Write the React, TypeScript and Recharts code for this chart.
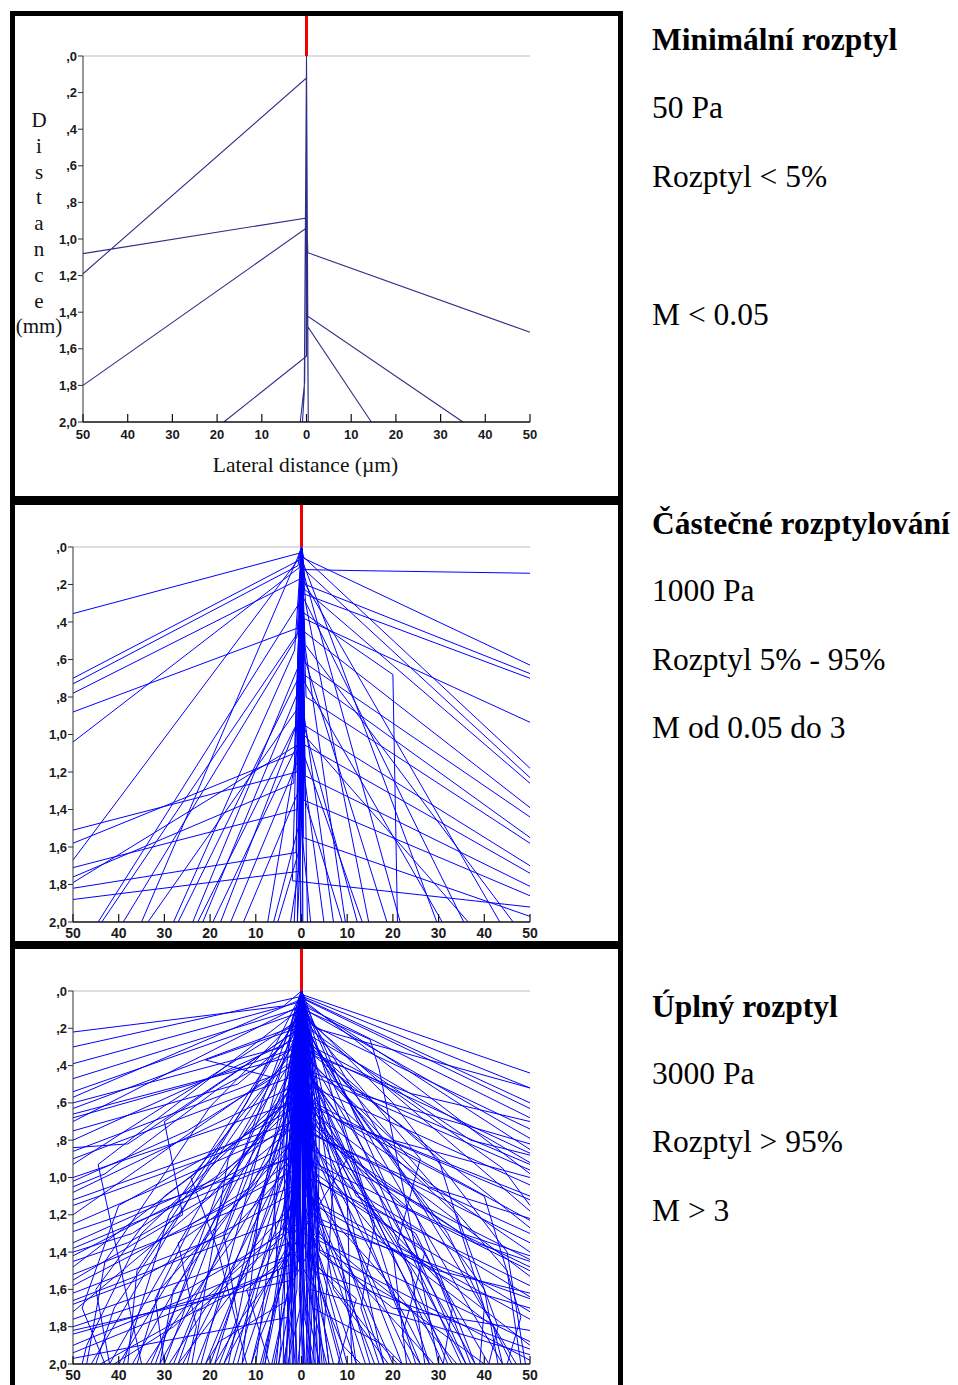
import React from "react";
import { LineChart, Line, XAxis, YAxis, ReferenceLine, Label } from "recharts";

type Pt = [number, number];

const lateralTicks = [-50, -40, -30, -20, -10, 0, 10, 20, 30, 40, 50];
const depthTicks = [0, 0.2, 0.4, 0.6, 0.8, 1.0, 1.2, 1.4, 1.6, 1.8, 2.0];
const depthTickLabels = [",0", ",2", ",4", ",6", ",8", "1,0", "1,2", "1,4", "1,6", "1,8", "2,0"];
const distanceLetters = ["D", "i", "s", "t", "a", "n", "c", "e", "(mm)"];

const panelTitles = ["Minimální rozptyl", "Částečné rozptylování", "Úplný rozptyl"];
const panelPressures = ["50 Pa", "1000 Pa", "3000 Pa"];
const panelScatter = ["Rozptyl < 5%", "Rozptyl 5% - 95%", "Rozptyl > 95%"];
const panelM = ["M < 0.05", "M od 0.05 do 3", "M > 3"];

// trajectories: [lateral µm, depth mm]; every electron enters at (0, 0)
const lowPaths: Pt[][] = [
  [[0, 0.12], [-50, 1.19]],
  [[0, 0.885], [-50, 1.08]],
  [[0, 0.94], [-50, 1.8]],
  [[0.2, 1.0], [0.3, 1.075], [50, 1.51]],
  [[0.2, 1.42], [35, 2.0]],
  [[0.3, 1.48], [14.5, 2.0]],
  [[0, 1.64], [-18.5, 2.0]],
  [[-0.4, 1.78], [-1.4, 2.0]],
  [[0.4, 2.0]],
  [[-0.5, 1.84], [-0.9, 2.0]],
  [[0.3, 1.7], [0.4, 2.0]],
];

const midPaths: Pt[][] = [
  [[0, 0.03], [-50, 0.355]],
  [[0.3, 0.06], [-50, 0.7]],
  [[-0.8, 0.1], [-50, 0.73]],
  [[-0.3, 0.17], [-50, 0.78]],
  [[-0.6, 0.43], [-50, 0.88]],
  [[-0.5, 0.11], [-50, 1.04]],
  [[-1.0, 1.2], [-50, 1.51]],
  [[-1.5, 1.1], [-50, 1.58]],
  [[-0.8, 0.07], [-50, 1.67]],
  [[-0.9, 1.4], [-50, 1.71]],
  [[-1.7, 1.26], [-50, 1.76]],
  [[-0.5, 1.05], [-50, 1.79]],
  [[-1.2, 1.63], [-50, 1.82]],
  [[-0.6, 1.73], [-50, 1.88]],
  [[-0.9, 0.06], [-35, 2.0]],
  [[-0.5, 0.3], [-44.5, 2.0]],
  [[-0.3, 0.44], [-43.7, 2.0]],
  [[-1.0, 0.48], [-39, 2.0]],
  [[-0.5, 0.85], [-33.6, 2.0]],
  [[-1.5, 0.55], [-28, 2.0]],
  [[-0.7, 0.7], [-27, 2.0]],
  [[-0.4, 0.62], [-23.8, 2.0]],
  [[-1.2, 0.95], [-22.7, 2.0]],
  [[-0.2, 0.74], [-21.6, 2.0]],
  [[-0.8, 1.05], [-19.4, 2.0]],
  [[-0.3, 0.9], [-17.7, 2.0]],
  [[-1.0, 1.15], [-15.5, 2.0]],
  [[-0.6, 1.3], [-12.7, 2.0]],
  [[-0.4, 1.0], [-7.4, 2.0]],
  [[-0.2, 1.45], [-6.1, 2.0]],
  [[-0.3, 1.6], [-5.2, 2.0]],
  [[-0.5, 1.7], [-2.4, 2.0]],
  [[0, 1.5], [-0.9, 2.0]],
  [[0, 0.12], [10, 0.125], [50, 0.14]],
  [[0.5, 0.06], [50, 0.63]],
  [[0.8, 0.2], [50, 0.675]],
  [[0.5, 0.25], [50, 0.7]],
  [[0.4, 0.38], [50, 0.935]],
  [[0.3, 0.05], [50, 1.18]],
  [[0.6, 0.12], [50, 1.23]],
  [[0.4, 0.22], [50, 1.26]],
  [[0.5, 0.45], [50, 1.39]],
  [[0.8, 0.62], [50, 1.44]],
  [[0.5, 0.68], [50, 1.55]],
  [[1.0, 0.8], [50, 1.58]],
  [[0.6, 0.95], [50, 1.7]],
  [[0.3, 1.05], [50, 1.74]],
  [[0.8, 1.22], [50, 1.81]],
  [[0.5, 1.35], [50, 1.86]],
  [[-2, 1.78], [50, 1.92]],
  [[0.4, 1.55], [50, 1.97]],
  [[0.2, 1.55], [2.0, 2.0]],
  [[0.5, 1.2], [4.9, 2.0]],
  [[0.3, 0.85], [7.0, 2.0]],
  [[0.8, 1.35], [8.9, 2.0]],
  [[0.6, 0.5], [9.6, 2.0]],
  [[0.2, 0.92], [12.2, 2.0]],
  [[0.4, 1.1], [13.3, 2.0]],
  [[0.9, 0.3], [14.7, 2.0]],
  [[0.5, 0.58], [18.7, 2.0]],
  [[0.4, 0.35], [20, 0.68], [21, 2.0]],
  [[0.7, 0.16], [21.6, 2.0]],
  [[0.3, 0.08], [29.6, 2.0]],
  [[0.6, 0.72], [30.8, 2.0]],
  [[0.2, 0.26], [35.5, 2.0]],
  [[0.5, 1.0], [36.5, 2.0]],
  [[0.4, 0.18], [43.4, 2.0]],
  [[0.8, 0.52], [46.3, 2.0]],
  [[0.3, 2.0]],
  [[-0.4, 1.1], [-0.2, 2.0]],
  [[0.6, 0.9], [0.1, 2.0]],
  [[-0.7, 1.6], [-0.9, 2.0]],
  [[0.9, 1.4], [1.3, 2.0]],
  [[-1.2, 1.8], [-1.6, 2.0]],
];

const highPaths: Pt[][] = [
  [[0.2, 0.02], [50, 0.44]],
  [[0.3, 0.03], [50, 0.52]],
  [[1.0, 0.06], [3, 0.2], [50, 0.52]],
  [[1, 0.05], [50, 0.63]],
  [[0.5, 0.08], [50, 0.68]],
  [[2, 0.18], [50, 0.74]],
  [[0.8, 0.1], [50, 0.79]],
  [[1.5, 0.32], [50, 0.87]],
  [[0.5, 0.22], [50, 0.92]],
  [[-1, 0.4], [50, 0.93]],
  [[2, 0.45], [50, 0.96]],
  [[0.4, 0.05], [50, 0.98]],
  [[1, 0.5], [50, 1.04]],
  [[0.6, 0.14], [50, 1.18]],
  [[3, 0.6], [50, 1.23]],
  [[0.3, 0.3], [50, 1.27]],
  [[1.2, 0.75], [50, 1.35]],
  [[-0.5, 0.55], [50, 1.4]],
  [[2, 0.85], [50, 1.44]],
  [[0.8, 0.62], [50, 1.53]],
  [[1.5, 1.0], [50, 1.58]],
  [[0.2, 0.9], [50, 1.64]],
  [[4, 1.25], [50, 1.65]],
  [[1, 1.1], [50, 1.76]],
  [[0.5, 1.3], [50, 1.88]],
  [[2.5, 1.5], [50, 1.92]],
  [[1, 0.2], [14, 0.75], [50, 1.12]],
  [[0.5, 0.35], [20, 0.8], [50, 1.0]],
  [[3, 0.4], [28, 1.05], [50, 1.22]],
  [[1, 0.7], [22, 1.15], [50, 1.48]],
  [[2, 1.2], [30, 1.5], [50, 1.62]],
  [[-3.9, 0.08], [-50, 0.22]],
  [[-0.5, 0.06], [-50, 0.39]],
  [[-0.3, 0.09], [-50, 0.47]],
  [[-1, 0.12], [-50, 0.54]],
  [[-4, 0.3], [-50, 0.6]],
  [[-0.5, 0.18], [-50, 0.63]],
  [[-2, 0.35], [-50, 0.66]],
  [[-0.5, 0.25], [-50, 0.8]],
  [[-1, 0.45], [-50, 0.9]],
  [[-0.3, 0.15], [-50, 0.93]],
  [[-2, 0.6], [-50, 1.0]],
  [[-0.8, 0.5], [-50, 1.08]],
  [[-1.5, 0.7], [-50, 1.12]],
  [[-0.4, 0.35], [-50, 1.2]],
  [[-3, 0.9], [-50, 1.29]],
  [[-1, 0.8], [-50, 1.42]],
  [[-0.5, 0.55], [-50, 1.48]],
  [[-2, 1.05], [-50, 1.52]],
  [[-0.7, 0.95], [-50, 1.58]],
  [[-1.2, 1.2], [-50, 1.66]],
  [[-0.3, 0.7], [-50, 1.72]],
  [[-2.5, 1.35], [-50, 1.76]],
  [[-1, 1.5], [-50, 1.84]],
  [[-0.6, 1.45], [-50, 1.94]],
  [[-3, 1.75], [-50, 1.97]],
  [[-1, 0.2], [-21, 0.37], [-6.8, 0.46], [-50, 0.86]],
  [[-2, 0.4], [-25, 0.75], [-50, 1.02]],
  [[-1, 0.6], [-18, 1.0], [-50, 1.35]],
  [[-0.5, 0.1], [-44.5, 0.93], [-35, 2.0]],
  [[-1, 0.3], [-24.2, 1.0], [-18.3, 1.39], [-12, 2.0]],
  [[-0.5, 0.12], [-46, 2.0]],
  [[-1, 0.25], [-42, 2.0]],
  [[-0.3, 0.4], [-40, 2.0]],
  [[-2, 0.5], [-37, 2.0]],
  [[-0.6, 0.2], [-33, 2.0]],
  [[-1.5, 0.65], [-31, 2.0]],
  [[-0.4, 0.3], [-28, 2.0]],
  [[-1, 0.8], [-26, 2.0]],
  [[-0.2, 0.55], [-23, 2.0]],
  [[-2.5, 0.9], [-21, 2.0]],
  [[-0.8, 0.45], [-19, 2.0]],
  [[-1.2, 1.0], [-17, 2.0]],
  [[-0.3, 0.75], [-15, 2.0]],
  [[-2, 1.2], [-13, 2.0]],
  [[-0.5, 0.95], [-11, 2.0]],
  [[-1.5, 1.3], [-9, 2.0]],
  [[-0.7, 1.1], [-8, 2.0]],
  [[-2, 1.5], [-6.5, 2.0]],
  [[-0.4, 1.4], [-5, 2.0]],
  [[-1, 1.6], [-4, 2.0]],
  [[-0.3, 1.7], [-3, 2.0]],
  [[-3, 0.6], [-30, 1.1], [-45, 1.6], [-42, 2.0]],
  [[-1, 0.15], [-29, 1.2], [-39, 2.0]],
  [[-2, 0.8], [-14, 1.3], [-30, 1.85], [-34, 2.0]],
  [[-1.5, 0.35], [-16, 0.9], [-24, 2.0]],
  [[-0.5, 0.65], [-8, 1.2], [-20, 2.0]],
  [[-4, 1.0], [-10, 1.45], [-27, 2.0]],
  [[-1, 1.25], [-22, 1.7], [-44, 2.0]],
  [[-0.8, 0.05], [-12, 0.6], [-36, 1.5], [-38, 2.0]],
  [[0.5, 0.1], [15, 0.26], [17, 0.42], [30, 2.0]],
  [[0.3, 0.08], [47, 2.0]],
  [[1, 0.2], [44, 2.0]],
  [[0.5, 0.3], [41, 2.0]],
  [[2, 0.45], [38, 2.0]],
  [[0.4, 0.15], [35, 2.0]],
  [[1.2, 0.6], [33, 2.0]],
  [[0.2, 0.35], [31, 2.0]],
  [[1.5, 0.75], [28, 2.0]],
  [[0.6, 0.5], [26, 2.0]],
  [[2.5, 0.85], [24, 2.0]],
  [[0.3, 0.65], [22, 2.0]],
  [[1, 0.95], [20, 2.0]],
  [[0.7, 0.8], [18, 2.0]],
  [[2, 1.1], [16, 2.0]],
  [[0.4, 1.0], [14, 2.0]],
  [[1.5, 1.25], [12, 2.0]],
  [[0.8, 1.15], [10, 2.0]],
  [[2, 1.4], [8.5, 2.0]],
  [[0.5, 1.35], [7, 2.0]],
  [[1, 1.55], [5.5, 2.0]],
  [[0.3, 1.6], [4, 2.0]],
  [[0.6, 1.75], [3, 2.0]],
  [[1, 0.4], [10, 0.9], [-5, 1.5], [-8, 2.0]],
  [[2, 0.7], [25, 1.2], [38, 2.0]],
  [[1, 0.25], [22, 0.85], [45, 1.5], [48, 2.0]],
  [[0.5, 0.55], [12, 1.0], [27, 1.6], [36, 2.0]],
  [[3, 0.9], [18, 1.35], [42, 1.8], [44, 2.0]],
  [[1, 0.1], [8, 0.5], [32, 1.3], [46, 2.0]],
  [[0.7, 1.2], [14, 1.6], [29, 2.0]],
  [[2, 0.3], [30, 0.9], [40, 1.7], [39, 2.0]],
  [[1.5, 0.5], [20, 1.4], [23, 2.0]],
  [[0.5, 0.6], [-1, 1.2], [0.8, 2.0]],
  [[-0.8, 0.9], [1.5, 2.0]],
  [[1.2, 0.5], [2.5, 1.4], [3, 2.0]],
  [[-1, 0.4], [-2.5, 1.3], [-2, 2.0]],
  [[0.3, 1.0], [-0.5, 2.0]],
  [[-0.5, 0.3], [0.5, 1.1], [1.8, 2.0]],
  [[0.8, 0.2], [-1.5, 1.6], [-2.8, 2.0]],
  [[-1.5, 0.7], [-0.3, 1.5], [0.2, 2.0]],
  [[2, 0.8], [1, 1.7], [2.2, 2.0]],
  [[-2, 1.0], [-1.2, 2.0]],
  [[0, 0.5], [0.5, 2.0]],
  [[-0.3, 0.8], [-3.5, 2.0]],
  [[1.5, 1.1], [4.5, 2.0]],
  [[-2.5, 1.2], [-5.5, 2.0]],
  [[2.5, 1.3], [6, 2.0]],
  [[0.5, 0.04], [50, 0.6]],
  [[0.2, 0.06], [50, 0.85]],
  [[-0.2, 0.03], [-50, 0.3]],
  [[-0.6, 0.05], [-50, 0.57]],
  [[-0.4, 0.08], [-50, 0.7]],
  [[0.3, 0.04], [36, 2.0]],
  [[-0.3, 0.05], [-30, 2.0]],
  [[0.6, 0.07], [25, 2.0]],
  [[-0.5, 0.06], [-22, 2.0]],
  [[0.4, 0.09], [18, 2.0]],
  [[-0.2, 0.1], [-16, 2.0]],
  [[0.1, 0.04], [12, 2.0]],
  [[-0.4, 0.07], [-10, 2.0]],
  [[2, 0.3], [12, 0.55], [50, 0.82]],
  [[-2, 0.25], [-14, 0.5], [-50, 0.75]],
  [[3, 0.5], [9, 0.7], [50, 1.1]],
  [[-3, 0.45], [-10, 0.8], [-50, 1.15]],
  [[1, 0.65], [16, 1.0], [35, 1.3], [50, 1.42]],
  [[-1, 0.55], [-20, 1.1], [-38, 1.35], [-50, 1.45]],
  [[2.5, 1.0], [18, 1.25], [50, 1.72]],
  [[-2.5, 0.95], [-16, 1.3], [-50, 1.62]],
  [[4, 1.4], [20, 1.7], [50, 1.82]],
  [[-4, 1.3], [-25, 1.6], [-50, 1.8]],
  [[1, 0.35], [6, 0.8], [24, 1.5], [27, 2.0]],
  [[-1, 0.4], [-7, 0.9], [-28, 1.6], [-31, 2.0]],
  [[3, 0.7], [10, 1.1], [11, 2.0]],
  [[-3, 0.65], [-9, 1.1], [-13, 2.0]],
  [[2, 0.9], [7, 1.6], [19, 2.0]],
  [[-2, 0.85], [-6, 1.5], [-17, 2.0]],
  [[1.5, 0.2], [5, 0.4], [40, 1.6], [43, 2.0]],
  [[-1.5, 0.22], [-6, 0.45], [-41, 1.7], [-45, 2.0]],
  [[2, 1.1], [15, 1.45], [34, 2.0]],
  [[-2, 1.15], [-17, 1.55], [-29, 2.0]],
  [[3, 1.3], [26, 1.75], [40, 2.0]],
  [[-3, 1.25], [-28, 1.8], [-41, 2.0]],
  [[0.5, 0.15], [26, 0.9], [21, 1.35], [50, 1.9]],
  [[-0.5, 0.2], [-30, 0.7], [-26, 1.2], [-50, 1.55]],
  [[1, 0.45], [34, 1.2], [43, 1.8], [41, 2.0]],
  [[-1, 0.5], [-35, 1.3], [-47, 1.9], [-48, 2.0]],
  [[4, 0.6], [7, 1.0], [5, 1.8], [6, 2.0]],
  [[-4, 0.7], [-6, 1.1], [-4.5, 1.9], [-5, 2.0]],
  [[2, 0.2], [4, 0.6], [3.5, 1.5], [9, 2.0]],
  [[-2, 0.15], [-4, 0.55], [-3.5, 1.4], [-8.5, 2.0]],
  [[1, 0.3], [2, 1.0], [1, 2.0]],
  [[-1, 0.35], [-2, 1.1], [-1, 2.0]],
  [[2, 0.4], [3.5, 1.2], [2.5, 2.0]],
  [[-2, 0.45], [-3.5, 1.3], [-2.5, 2.0]],
  [[3, 0.6], [4, 2.0]],
  [[-3, 0.55], [-4, 2.0]],
  [[0.5, 0.2], [1.5, 0.9], [-0.5, 1.6], [0.5, 2.0]],
  [[-0.5, 0.25], [-1.5, 0.95], [0.5, 1.7], [-0.8, 2.0]],
  [[1.5, 0.7], [3, 1.5], [3.5, 2.0]],
  [[-1.5, 0.75], [-3, 1.55], [-3.2, 2.0]],
  [[2.5, 0.35], [1.5, 1.3], [2, 2.0]],
  [[-2.5, 0.4], [-1.5, 1.35], [-1.8, 2.0]],
  [[0.8, 0.5], [2.2, 1.8], [1.2, 2.0]],
  [[-0.8, 0.6], [-2.2, 1.75], [-1.4, 2.0]],
  [[3.5, 0.9], [2, 1.6], [3.8, 2.0]],
  [[-3.5, 0.85], [-2, 1.65], [-3.8, 2.0]],
  [[1.2, 1.4], [14, 1.8], [21, 2.0]],
  [[-1.2, 1.35], [-13, 1.75], [-19, 2.0]],
  [[0.6, 1.0], [9, 1.5], [15, 2.0]],
  [[-0.6, 1.05], [-9, 1.55], [-14, 2.0]],
  [[2, 0.6], [17, 1.1], [32, 2.0]],
  [[-2, 0.55], [-18, 1.05], [-32, 2.0]],
  [[1, 0.8], [30, 1.55], [37, 2.0]],
  [[-1, 0.78], [-31, 1.6], [-36, 2.0]],
  [[0.3, 0.12], [20, 0.6], [45, 1.4], [49, 2.0]],
  [[-0.3, 0.13], [-20, 0.62], [-43, 1.45], [-47, 2.0]],
  [[4, 1.6], [9, 1.9], [13, 2.0]],
  [[-4, 1.55], [-9, 1.85], [-11, 2.0]],
  [[1, 1.35], [50, 1.98]],
  [[-1, 1.4], [-50, 1.9]],
  [[2, 1.6], [50, 1.95]],
  [[-2, 1.55], [-50, 1.82]],
  [[0.5, 0.75], [50, 1.3]],
  [[-0.5, 0.72], [-50, 1.25]],
  [[1, 0.9], [50, 1.5]],
  [[-1, 0.88], [-50, 1.38]],
  [[1, 0.5], [12, 1.1], [25, 1.3], [33, 1.7], [31, 2.0]],
  [[-1, 0.55], [-11, 1.05], [-24, 1.25], [-32, 1.65], [-30, 2.0]],
  [[2, 0.75], [20, 1.05], [38, 1.35], [50, 1.45]],
  [[-2, 0.7], [-19, 1.0], [-37, 1.3], [-50, 1.4]],
  [[0.5, 0.4], [9, 0.7], [16, 1.25], [13, 1.7], [17, 2.0]],
  [[-0.5, 0.45], [-9, 0.75], [-17, 1.3], [-14, 1.75], [-18, 2.0]],
  [[1.5, 0.95], [27, 1.4], [22, 1.85], [26, 2.0]],
  [[-1.5, 0.9], [-27, 1.35], [-23, 1.8], [-25, 2.0]],
  [[3, 1.15], [36, 1.6], [50, 1.7]],
  [[-3, 1.1], [-36, 1.55], [-50, 1.68]],
  [[1, 0.28], [18, 0.5], [44, 0.95], [50, 1.15]],
  [[-1, 0.3], [-18, 0.52], [-43, 0.98], [-50, 1.05]],
  [[0.5, 1.2], [6, 1.45], [24, 1.7], [28, 2.0]],
  [[-0.5, 1.25], [-6, 1.5], [-23, 1.72], [-27, 2.0]],
  [[2, 1.45], [12, 1.65], [8, 2.0]],
  [[-2, 1.4], [-12, 1.6], [-7, 2.0]],
  [[1, 0.6], [40, 1.1], [48, 1.75], [45, 2.0]],
  [[-1, 0.62], [-40, 1.15], [-48, 1.7], [-43, 2.0]],
  [[3, 0.35], [24, 0.55], [50, 0.7]],
  [[-3, 0.32], [-24, 0.5], [-50, 0.68]],
  [[2.5, 1.7], [18, 1.9], [22, 2.0]],
  [[-2.5, 1.65], [-18, 1.88], [-21, 2.0]],
  [[1, 1.0], [4, 1.3], [-3, 1.6], [-6, 2.0]],
  [[-1, 1.0], [-4, 1.3], [3, 1.6], [5, 2.0]],
  [[0.3, 0.18], [10, 0.35], [37, 0.8], [50, 0.88]],
  [[-0.3, 0.2], [-10, 0.36], [-38, 0.82], [-50, 0.84]],
];

type Row = { x: number; d: number | null };

function toTable(paths: Pt[][]): Row[] {
  const rows: Row[] = [];
  for (const path of paths) {
    const pts: Pt[] = [[0, 0], ...path];
    for (const [x, d] of pts) rows.push({ x, d });
    rows.push({ x: pts[pts.length - 1][0], d: null }); // break between electrons
  }
  return rows;
}

const depthLabel = (v: number) => {
  const i = depthTicks.findIndex((t) => Math.abs(t - v) < 1e-6);
  return i >= 0 ? depthTickLabels[i] : "";
};

const sans = "'Liberation Sans', Arial, sans-serif";
const serif = "'Liberation Serif', 'Times New Roman', serif";

function LateralTick(props: any) {
  const { x, y, payload, fontSize, labelDy } = props;
  return (
    <g>
      <line x1={x} y1={y} x2={x} y2={y - 8} stroke="#111" strokeWidth={1.2} />
      <text x={x} y={y + labelDy} textAnchor="middle" fontSize={fontSize} fontWeight={700} fontFamily={sans} fill="#1a1a1a">
        {Math.abs(payload.value)}
      </text>
    </g>
  );
}

function DepthTick(props: any) {
  const { x, y, payload } = props;
  return (
    <text x={x} y={y + 4.5} textAnchor="end" fontSize={13} fontWeight={700} fontFamily={sans} fill="#1a1a1a">
      {depthLabel(payload.value)}
    </text>
  );
}

function DistanceTitle(props: any) {
  const vb = props.viewBox || { x: 0, y: 0 };
  return (
    <text textAnchor="middle" fontFamily={serif} fontSize={21} fill="#111">
      {distanceLetters.map((c, i) => (
        <tspan key={i} x={vb.x - 14} y={vb.y + 71 + i * 25.8}>
          {c}
        </tspan>
      ))}
    </text>
  );
}

function LateralTitle(props: any) {
  const vb = props.viewBox || { x: 0, y: 0, width: 0 };
  return (
    <text x={vb.x + vb.width / 2 - 1} y={vb.y + 50} textAnchor="middle" fontFamily={serif} fontSize={21.5} fill="#111">
      Lateral distance (µm)
    </text>
  );
}

type ChartProps = {
  paths: Pt[][];
  left: number;
  top: number;
  width: number;
  height: number;
  margin: { top: number; right: number; bottom: number; left: number };
  xAxisHeight: number;
  stroke: string;
  strokeWidth: number;
  tickFont: number;
  labelDy: number;
  titles?: boolean;
};

function TrajectoryChart(p: ChartProps) {
  const data = toTable(p.paths);
  return (
    <div style={{ position: "absolute", left: p.left, top: p.top }}>
      <LineChart width={p.width} height={p.height} data={data} margin={p.margin}>
        <XAxis
          type="number"
          dataKey="x"
          domain={[-50, 50]}
          ticks={lateralTicks}
          interval={0}
          height={p.xAxisHeight}
          axisLine={{ stroke: "#111", strokeWidth: 1.5 }}
          tickLine={false}
          tickSize={0}
          tickMargin={0}
          tick={(t: any) => <LateralTick {...t} fontSize={p.tickFont} labelDy={p.labelDy} />}
        >
          {p.titles ? <Label content={<LateralTitle />} /> : null}
        </XAxis>
        <YAxis
          type="number"
          domain={[0, 2]}
          reversed
          ticks={depthTicks}
          interval={0}
          width={30}
          axisLine={{ stroke: "#333" }}
          tickLine={{ stroke: "#333" }}
          tickSize={5}
          tickMargin={1}
          tick={(t: any) => <DepthTick {...t} />}
        >
          {p.titles ? <Label content={<DistanceTitle />} /> : null}
        </YAxis>
        <ReferenceLine y={0} stroke="#bdbdbd" />
        <Line
          dataKey="d"
          stroke={p.stroke}
          strokeWidth={p.strokeWidth}
          dot={false}
          activeDot={false}
          connectNulls={false}
          isAnimationActive={false}
        />
        <ReferenceLine
          segment={[
            { x: 0, y: -0.3 },
            { x: 0, y: 0 },
          ]}
          stroke="#f00000"
          strokeWidth={3}
          ifOverflow="visible"
        />
      </LineChart>
    </div>
  );
}

const frameStyle = (top: number, height: number): React.CSSProperties => ({
  position: "absolute",
  left: 10,
  top,
  width: 613,
  height,
  border: "5px solid #000",
  boxSizing: "border-box",
  pointerEvents: "none",
});

const textTops = [
  [50, 118, 187, 325],
  [534, 601, 670, 738],
  [1017, 1084, 1152, 1221],
];

export default function App() {
  return (
    <div style={{ position: "absolute", left: 0, top: 0, width: 958, height: 1385, overflow: "hidden", background: "#fff" }}>
      <TrajectoryChart
        paths={lowPaths}
        left={15}
        top={16}
        width={603}
        height={480}
        margin={{ top: 40, right: 88, bottom: 44, left: 38 }}
        xAxisHeight={30}
        stroke="#2e2e8a"
        strokeWidth={1.1}
        tickFont={13}
        labelDy={16.5}
        titles
      />
      <TrajectoryChart
        paths={midPaths}
        left={15}
        top={505}
        width={603}
        height={436}
        margin={{ top: 42, right: 88, bottom: 0, left: 28 }}
        xAxisHeight={19}
        stroke="#0000ff"
        strokeWidth={1}
        tickFont={14}
        labelDy={16}
      />
      <TrajectoryChart
        paths={highPaths}
        left={15}
        top={949}
        width={603}
        height={436}
        margin={{ top: 42, right: 88, bottom: 0, left: 28 }}
        xAxisHeight={21}
        stroke="#0000ff"
        strokeWidth={1}
        tickFont={14}
        labelDy={16}
      />
      <div style={frameStyle(11, 490)} />
      <div style={frameStyle(500, 446)} />
      <div style={frameStyle(944, 446)} />
      <svg width={958} height={1385} style={{ position: "absolute", left: 0, top: 0, pointerEvents: "none" }}>
        {textTops.map((ys, i) => (
          <g key={i} fontFamily={serif} fontSize={31.5} fill="#000">
            <text x={652} y={ys[0]} fontWeight={700}>
              {panelTitles[i]}
            </text>
            <text x={652} y={ys[1]}>{panelPressures[i]}</text>
            <text x={652} y={ys[2]}>{panelScatter[i]}</text>
            <text x={652} y={ys[3]}>{panelM[i]}</text>
          </g>
        ))}
      </svg>
    </div>
  );
}
